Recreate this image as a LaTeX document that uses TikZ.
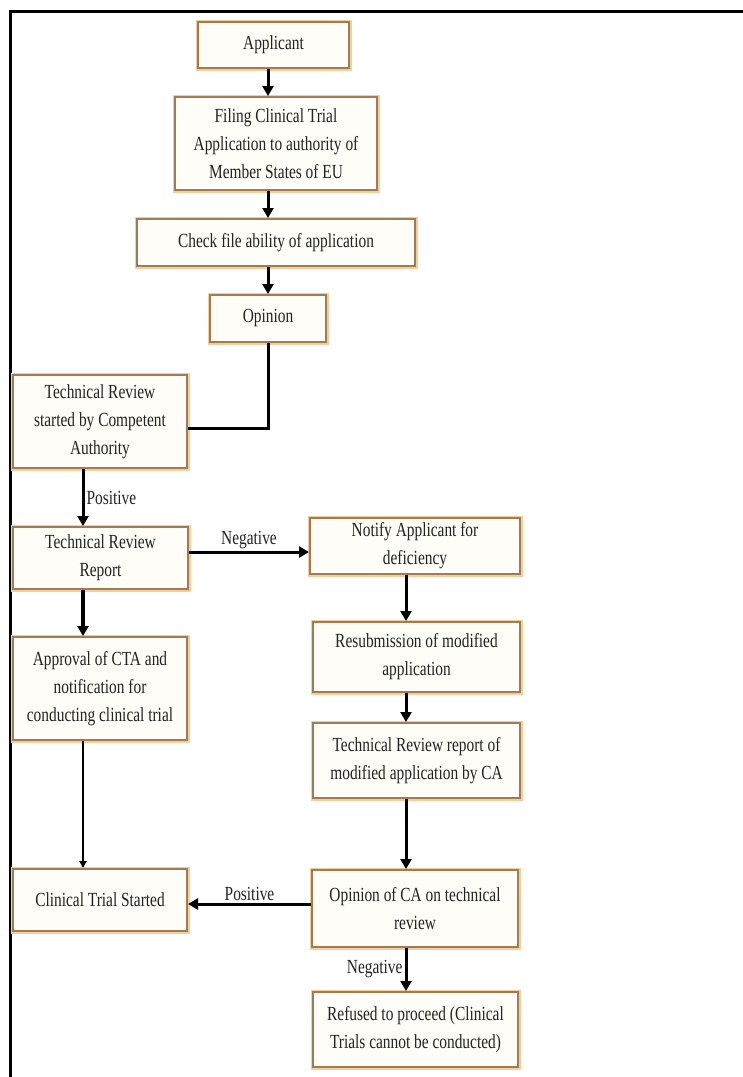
\documentclass[tikz,border=0pt]{standalone}
\usepackage{fontspec}
\setmainfont[FakeStretch=0.77]{Liberation Serif}
\usepackage{tikz}
\usetikzlibrary{arrows.meta}
\definecolor{boxln}{HTML}{A27C50}
\definecolor{boxgl}{HTML}{F2CFA0}
\definecolor{boxfl}{HTML}{FFFDF8}
\definecolor{ink}{HTML}{222222}
\tikzset{
  bx/.style={draw=boxln,line width=2pt,fill=boxfl,preaction={draw=boxgl,line width=5pt},
    align=center,inner sep=0pt,text=ink,font=\fontsize{20}{28}\selectfont},
  ar/.style={line width=3pt,-{Triangle[length=10pt,width=11pt]}},
  ln/.style={line width=3pt},
  lb/.style={font=\fontsize{20}{22}\selectfont,text=ink,inner sep=2pt},
  frm/.style={line width=3pt}
}

\begin{document}
\begin{tikzpicture}[x=1pt,y=-1pt]
\useasboundingbox (0,0) rectangle (743,1077);
\draw[frm] (743,11) -- (10,11) -- (10,1077);
\node[bx,minimum width=151pt,minimum height=46pt] (appl) at (273.5,45) {Applicant};
\node[bx,minimum width=202pt,minimum height=93pt] (filing) at (276,143.5) {Filing Clinical Trial\\Application to authority of\\Member States of EU};
\node[bx,minimum width=278pt,minimum height=47pt] (check) at (276,242.5) {Check file ability of application};
\node[bx,minimum width=116pt,minimum height=47pt] (opin) at (268,318.5) {Opinion};
\node[bx,minimum width=174pt,minimum height=93pt] (trstart) at (100,421.5) {Technical Review\\started by Competent\\Authority};
\node[bx,minimum width=175pt,minimum height=62pt] (trrep) at (100.5,558) {Technical Review\\Report};
\node[bx,minimum width=174pt,minimum height=103pt] (approve) at (100,688.5) {Approval of CTA and\\notification for\\conducting clinical trial};
\node[bx,minimum width=174pt,minimum height=62pt] (started) at (100,900) {Clinical Trial Started};
\node[bx,minimum width=210pt,minimum height=56pt] (notify) at (415,546) {Notify Applicant for\\deficiency};
\node[bx,minimum width=207pt,minimum height=70pt] (resub) at (416.5,657) {Resubmission of modified\\application};
\node[bx,minimum width=207pt,minimum height=75pt] (trca) at (416.5,760.5) {Technical Review report of\\modified application by CA};
\node[bx,minimum width=206pt,minimum height=77pt] (opinca) at (415,908.5) {Opinion of CA on technical\\review};
\node[bx,minimum width=205pt,minimum height=75pt] (refused) at (415.5,1029.5) {Refused to proceed (Clinical\\Trials cannot be conducted)};
\coordinate (lx) at (83,0);
\coordinate (rx) at (406,0);
\draw[ar] (appl.south -| opin) -- (filing.north -| opin);
\draw[ar] (filing.south -| opin) -- (check.north -| opin);
\draw[ar] (check.south -| opin) -- (opin.north);
\draw[ln] (opin.south) |- ([yshift=-6.5pt]trstart.east);
\draw[ar] (trstart.south -| lx) -- node[lb,right] {Positive} (trrep.north -| lx);
\draw[ar,line width=4.5pt] (trrep.south -| lx) -- (approve.north -| lx);
\draw[line width=2.5pt,-{Triangle[length=7pt,width=7pt]}] (approve.south -| lx) -- (started.north -| lx);
\draw[ar] ([yshift=6pt]trrep.east) -- node[lb,above] {Negative} ([yshift=6pt]trrep.east -| notify.west);
\draw[ar] (notify.south -| rx) -- (resub.north -| rx);
\draw[ar] (resub.south -| rx) -- (trca.north -| rx);
\draw[ar] (trca.south -| rx) -- (opinca.north -| rx);
\draw[ar] ([yshift=4.5pt]opinca.west) -- node[lb,above] {Positive} ([yshift=4.5pt]opinca.west -| started.east);
\draw[ar] (opinca.south -| rx) -- node[lb,left] {Negative} (refused.north -| rx);
\end{tikzpicture}
\end{document}
